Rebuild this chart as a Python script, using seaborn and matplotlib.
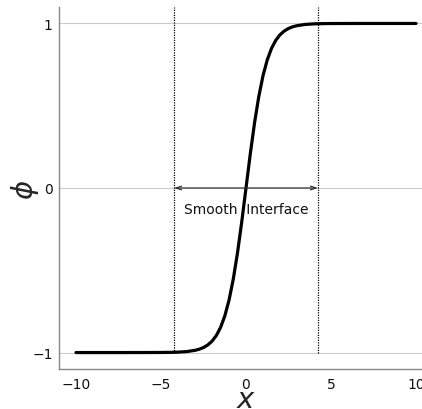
import matplotlib
matplotlib.use("Agg")
import matplotlib.pyplot as plt
import seaborn as sns
import pandas as pd

# values
x_vals = [-10, -9, -8, -7, -6, -5, -4.5, -4, -3.5, -3, -2.75, -2.5, -2.25, -2, -1.75,
          -1.5, -1.25, -1, -0.75, -0.5, -0.25, 0, 0.25, 0.5, 0.75, 1, 1.25, 1.5,
          1.75, 2, 2.25, 2.5, 2.75, 3, 3.5, 4, 4.5, 5, 6, 7, 8, 9, 10]
phi_vals = [-1.0, -1.0, -1.0, -1.0, -0.9999, -0.9995, -0.9989, -0.9975, -0.9942, -0.9866,
            -0.9798, -0.9695, -0.9541, -0.9311, -0.8975, -0.8483, -0.7786, -0.6823,
            -0.5546, -0.3941, -0.2054, 0.0, 0.2054, 0.3941, 0.5546, 0.6823, 0.7786,
            0.8483, 0.8975, 0.9311, 0.9541, 0.9695, 0.9798, 0.9866, 0.9942, 0.9975,
            0.9989, 0.9995, 0.9999, 1.0, 1.0, 1.0, 1.0]
interface_edges = [-4.24, 4.24]
label_text = "Smooth  Interface"
x_ticks = [-10, -5, 0, 5, 10]
y_ticks = [-1, 0, 1]

df = pd.DataFrame({"x": x_vals, "phi": phi_vals})

sns.set_style("whitegrid")
plt.rcParams["font.family"] = ["DejaVu Sans"]

fig = plt.figure(figsize=(4.22, 4.10), dpi=100)
ax = fig.add_axes([59 / 422, 40 / 410, 374 / 422, 362 / 410])

sns.lineplot(data=df, x="x", y="phi", color="black", linewidth=2.3, ax=ax)

for xe in interface_edges:
    ax.vlines(xe, -1, 1.1, colors="black", linestyles=(0, (1, 1)), linewidth=0.9, zorder=3)

ax.annotate("", xy=(interface_edges[0], 0), xytext=(interface_edges[1], 0),
            arrowprops=dict(arrowstyle="<->,head_length=0.4,head_width=0.13",
                            color="#333333", lw=0.9, shrinkA=0, shrinkB=0))
ax.text(0, -0.125, label_text, ha="center", va="center", fontsize=10, color="#111111")

ax.set_xlim(-11, 11)
ax.set_ylim(-1.1, 1.1)
ax.set_xticks(x_ticks)
ax.set_yticks(y_ticks)
ax.set_yticklabels(["\u22121", "0", "1"])
ax.set_xticklabels(["\u221210", "\u22125", "0", "5", "10"])

ax.grid(axis="x", visible=False)
ax.grid(axis="y", color="#cccccc", linewidth=0.8)
for side in ["top", "right"]:
    ax.spines[side].set_visible(False)
for side in ["left", "bottom"]:
    ax.spines[side].set_color("#888888")
    ax.spines[side].set_linewidth(1.0)
ax.tick_params(axis="x", labelsize=10, length=3, color="#888888", pad=3, labelcolor="#111111")
ax.tick_params(axis="y", labelsize=10, length=0, pad=4.5, labelcolor="#111111")

ax.set_xlabel(r"$x$", fontsize=21, va="center", ha="center")
ax.xaxis.set_label_coords(0.5, -0.083)
ax.set_ylabel(r"$\phi$", fontsize=21, va="center", ha="center")
ax.yaxis.set_label_coords(-0.092, 0.497)

fig.savefig("out.png", dpi=100)
